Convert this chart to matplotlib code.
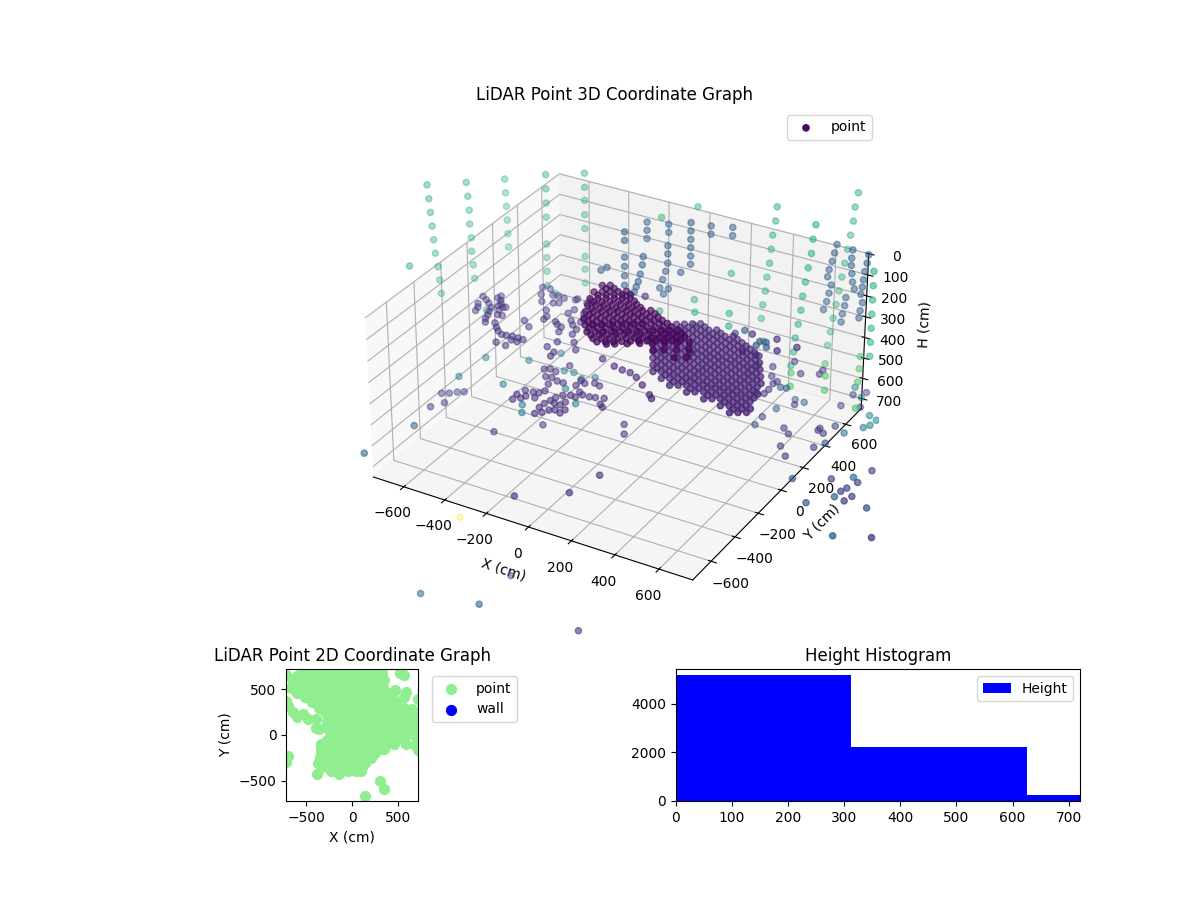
import matplotlib
matplotlib.use("Agg")
import matplotlib.pyplot as plt
from matplotlib.gridspec import GridSpec

# Values below were read in a unit slightly smaller than a centimetre.
READING_TO_CM = 1.0417

# ---- dense core under the sensor
core_x = [-206,-179,-207,-179,-152,-125,-97,-193,-166,-139,-111,-84,-57,-173,-146,-119,-91,-64,-36,-9,
          -154,-127,-99,-72,-45,-17,10,37,65,-131,-103,-76,-48,-21,6,34,61,88,116,
          -100,-73,-45,-18,9,37,64,91,119,146,173,-66,-39,-12,16,43,71,98,125,153,180,207,235,
          -19,9,36,63,91,118,145,173,200,227,255,282,49,76,117,158,199,240,281,322,229,263,304,345,328,369,
          -179,-152,-180,-152,-125,-98,-70,-166,-139,-112,-84,-57,-30,-146,-119,-92,-64,-37,-9,18,
          -127,-100,-72,-45,-18,10,37,64,92,-104,-76,-49,-21,6,33,61,88,115,143,
          -73,-46,-18,9,36,64,91,118,146,173,200,-39,-12,15,43,70,98,125,152,180,207,234,262,
          8,36,63,90,118,145,172,200,227,254,282]
core_y = [198,215,134,151,168,185,203,78,95,113,130,147,164,27,44,61,78,96,113,130,
          -23,-6,11,28,45,63,80,97,114,-73,-55,-38,-21,-4,13,31,48,65,82,
          -117,-100,-83,-66,-49,-31,-14,3,20,37,55,-160,-143,-126,-109,-91,-74,-57,-40,-22,-5,12,29,
          -194,-177,-160,-143,-125,-108,-91,-74,-57,-39,-22,-5,-206,-189,-163,-137,-112,-86,-60,-34,-156,-135,-109,-83,-166,-141,
          183,200,119,136,153,170,188,63,80,98,115,132,149,12,29,46,63,81,98,115,
          -38,-21,-4,13,30,48,65,82,99,-88,-70,-53,-36,-19,-2,16,33,50,67,
          -132,-115,-98,-81,-64,-46,-29,-12,5,22,40,-175,-158,-141,-124,-106,-89,-72,-55,-37,-20,-3,14,
          -209,-192,-175,-158,-140,-123,-106,-89,-72,-54,-37]

# ---- elongated ridge
ridge_x = [49,76,103,130,157,183, 50,76,103,130,157,184,210,237, 77,103,130,157,184,211,237,264,291,
           78,105,131,158,185,212,239,265,292,319, 105,132,158,185,212,239,266,292,319,346,373,
           132,159,185,212,239,266,293,319,346,373,400, 160,187,213,240,267,294,321,347,374,401,428,455,
           214,240,267,294,321,348,374,401,428,455,482, 241,267,294,321,348,375,401,428,455,482,509,535,
           295,322,349,376,403,429,456,483,510,537,563,590, 322,349,376,403,430,456,483,510,537,564,590,617,
           377,404,431,458,484,511,538,565,592,618,645, 431,458,485,511,538,565,592,619, 485,512,538,565,592,
           76,103,130,157,184, 77,103,130,157,184,211,237, 104,130,157,184,211,238,264,291,
           105,132,158,185,212,239,266,292,319, 132,159,185,212,239,266,293,319,346,373,
           159,186,212,239,266,293,320,346,373,400, 187,214,240,267,294,321,348,374,401,428,455,
           241,267,294,321,348,375,401,428,455,482, 268,294,321,348,375,402,428,455,482,509,536,
           322,349,376,403,430,456,483,510,537,564,590, 349,376,403,430,457,483,510,537,564,591,617,
           404,431,458,485,511,538,565,592,619,645, 458,485,512,538,565,592,619]
ridge_y = [159,112,65,18,-29,-75, 222,176,129,82,35,-12,-58,-105, 239,193,146,99,52,5,-41,-88,-135,
           303,256,210,163,116,69,22,-24,-71,-118, 320,273,227,180,133,86,39,-7,-54,-101,-148,
           338,291,245,198,151,104,57,11,-36,-83,-130, 355,308,262,215,168,121,74,28,-19,-66,-113,-160,
           325,279,232,185,138,91,45,-2,-49,-96,-143, 342,296,249,202,155,108,62,15,-32,-79,-126,-173,
           313,266,219,172,125,79,32,-15,-62,-109,-156,-202, 331,284,237,190,143,97,50,3,-44,-91,-138,-184,
           301,254,207,160,114,67,20,-27,-74,-121,-167, 271,224,177,131,84,37,-10,-57, 241,194,148,101,54,
           144,97,50,3,-44, 207,161,114,67,20,-27,-73, 224,178,131,84,37,-10,-56,-103,
           288,241,195,148,101,54,7,-39,-86, 305,258,212,165,118,71,24,-22,-69,-116,
           323,276,230,183,136,89,42,-4,-51,-98, 340,293,247,200,153,106,59,13,-34,-81,-128,
           310,264,217,170,123,76,30,-17,-64,-111, 327,281,234,187,140,93,47,0,-47,-94,-141,
           298,251,204,157,110,64,17,-30,-77,-124,-171, 316,269,222,175,128,82,35,-12,-59,-106,-153,
           286,239,192,145,99,52,5,-42,-89,-136, 256,209,162,116,69,22,-25]

# ---- curved left ring and nearby returns
ring_x = [-874,-846,-820,-791,-782,-770,-762,-746,-858,-842,-834,-813,-809,-790,-772,-774,-752,-736,-750,-740,
          -715,-708,-682,-660,-632,-611,-586,-558,-533,-574,-569,-618,-546,-613,-569,-697,-670,-636,-662,-625,
          -601,-569,-587,-567,-520,-517,-464,-462,-580,-550,-549,-487,-481,-428,-405,-496,-478,-452,-440,-445,
          -419,-387,-404,-381,-402,-417,-370,-365,-340,-303]
ring_y = [342,324,303,277,245,216,185,159,279,252,222,362,383,349,324,305,274,238,302,309,
          241,173,144,122,104,107,114,113,111,85,34,39,84,251,215,535,479,428,539,499,
          505,498,440,453,510,521,509,538,372,327,301,395,434,422,382,307,291,280,241,348,
          318,294,356,251,166,111,86,52,196,147]

# ---- low arcs in front of the core
arc_x = [-469,-448,-417,-392,-432,-407,-372,-343,-391,-374,-387,-411,-446,-459,-453,-429,-420,-381,-287,-290,
         -264,-230,-202,-247,-225,-193,-169,-135,-125,-106,-266,-293,-309,-315,-324,-326,-317,-297,-281,-260,
         -231,-226,-290,-262,-256,-241]
arc_y = [169,182,175,245,120,126,112,112,73,19,-7,-13,-17,-61,-103,-79,-55,-49,120,164,
         152,174,165,82,68,69,76,88,40,24,42,25,-4,-35,-68,-104,-154,-132,-103,-90,
         -100,-69,-46,-46,-16,39]

# ---- band joining core to arcs
band_x = [-57,-19,21,72,134,156,-100,-171,-214,-179,-145,-111,-77,-43,-148,-107,-66,-25,16,9,43]
band_y = [100,97,77,36,-16,-38,110,138,129,151,172,194,216,237,97,123,149,174,200,114,136]
band_h = [450,450,450,450,450,450,450,450,300,300,300,300,300,300,300,300,300,300,300,300,300]

# ---- teal returns
teal_x = [-435,-393,-339,-295,-597,-441,-410,-257,-355,-789,-777,-608,-522]
teal_y = [272,280,251,288,52,-50,-103,66,149,14,203,273,391]

# ---- slanted wall columns, far and pale
green_x = [-1191,-1186,-1182,-1178,-1174,-1170,-1162,-1158,-1154,
           -1093,-1089,-1085,-1085,-1081,-1081,-1077,-1073,
           -1041,-1039,-1037,-1035,-1034,-1033,
           -805,-805,-805,-805,-805,-805,-805,-805,
           -670,-670,-670,-670,-670,-670,-670,-670,
           -1131,
           182,178,169,165,161,153,149,141,137,
           420,412,408,399,391,383,379,371,362,358,350,
           445,436,432,424,416,408,400,391,383,375,367,359,
           697,697,697,697,697,697,697]
green_y = [421,424,426,429,431,434,439,442,444,
           572,575,577,577,580,580,583,585,
           794,795,796,797,798,800,
           747,747,747,747,747,747,747,747,
           841,841,841,841,841,841,841,841,
           181,
           969,967,961,959,956,951,948,943,941,
           849,844,842,836,831,826,823,818,813,810,805,
           1192,1186,1184,1179,1173,1168,1163,1158,1153,1147,1142,1137,
           830,830,830,830,830,830,830]
green_h = [40,105,170,235,300,365,430,495,560, 69,135,201,267,333,399,465,531, 135,201,267,333,399,465,
           36,103,170,238,367,433,500,569, 36,103,165,233,300,435,497,564, 300,
           36,102,168,234,300,366,432,498,564, 5,71,137,203,269,335,401,467,533,599,665,
           2,68,134,200,266,332,398,464,530,596,662,728, 137,203,269,335,401,467,533]

green2_x = [-162,-246,65,-46,8,136,185,-123,58,367,-846,-672]
green2_y = [917,755,796,681,587,649,553,524,492,512,324,596]
green2_h = [100,100,300,400,400,400,400,400,400,400,500,500]

lime_x = [427,474,516,562,610,656,698,782,616]
lime_y = [651,553,788,699,593,821,721,528,915]

# ---- blue-grey wall columns
blue_x = [-241,-241,-241,-172,-172,-111,-111,-111,-118,-128,-138,-125,-108,
          -28,-28,-28,-28,-28,-28,5,5,88,88,-32,
          -151,-154,-161,-168,-175,-182,-238,-238,-238,-238,-238,-238,-238,
          497,490,483,473,469,483,476,469,459, 566,563,563,566,570,577,549,546,539,536,
          641,637,630,627,624,620,627,620,617,-324,-315]
blue_y = [623,623,623,683,683,567,567,567,563,556,550,558,569,
          610,610,610,610,610,610,723,723,756,756,535,
          433,431,427,423,418,414,432,432,432,432,432,432,432,
          895,890,886,880,877,886,882,877,871, 902,900,900,902,904,909,891,889,885,883,
          895,892,888,886,884,882,886,882,880,388,421]
blue_h = [62,100,138,81,119,112,150,193,231,269,308,337,313,
          4,42,81,119,158,196,61,99,61,99,200,
          112,150,193,227,251,275,21,60,137,180,223,267,315,
          96,135,173,212,245,284,322,361,399, 106,144,178,216,255,288,327,365,404,442,
          106,144,183,221,255,288,327,365,399,200,200]

# ---- floor-level stragglers
floor_x = [-843,-816,-792,-768,-791,-823,-798,-853,-491,-347,-164,10,48,-62,-24,
           398,401,418,452,468,494,515,552,567,619,720,846,687,643,643,672,713,689,637,744,712,642,682,681,622,774,809,793,814,
           967,925,956,937,927,854,923,981,969,1067,1095,989,1040,1174,1400]
floor_y = [-39,-22,2,18,-97,-153,-312,-590,-190,-45,-559,-431,-261,124,58,
           459,388,545,649,612,648,424,392,293,234,98,-32,351,478,495,467,403,542,700,512,729,804,848,801,864,687,618,589,667,
           308,227,201,143,110,173,62,98,54,52,151,394,-190,-127,-250]
floor_lv = [.2,.2,.2,.2,.2,.2,.32,.34,.22,.18,.22,.2,.15,.15,.15,
            .17,.25,.3,.3,.15,.3,.18,.18,.18,.18,.28,.3,.18,.18,.18,.18,.3,.18,.18,.38,.18,.18,.18,.45,.4,.45,.42,.4,.45,
            .2,.35,.2,.2,.2,.2,.33,.2,.2,.25,.2,.2,.33,.2,.33]

# ---- returns well below the floor
deep_x = [-594,-347,-344,95]
deep_y = [-610,-555,-317,-513]
deep_h = [1300,1300,1300,1300]
deep_lv = [.35,.32,.25,.2]

# ---- mid-height stragglers to the right of the ridge
mid_x = [-147,380,485,584,528,471,412,147,237,340,318,434,459,478,436]
mid_y = [444,384,396,377,314,242,241,183,131,396,355,346,352,318,311]
mid_lv = [.1,.12,.12,.12,.12,.12,.12,.05,.05,.27,.27,.27,.27,.27,.27]

side_x = [409,378,410,404,411,371,465,534,532,398,339,444,468,280]
side_y = [447,437,485,536,559,588,665,700,735,742,659,525,531,640]
side_lv = [.15,.15,.15,.15,.15,.15,.15,.15,.15,.15,.15,.3,.3,.3]

outlier_x = [-935]
outlier_y = [204]
outlier_h = [1500]

# ---- a nearest return past the right edge of the view
near_x = [1500]
near_y = [-400]
near_h = [200]

# ---- 2D plan view, read row by row
plan_rows_y = [680,640,600,555,510,455,410,355,300,250,200,150,100,50,0,-50,-100,-150,-200,-250,-300,-345,-390]
plan_rows_x = [
    [-560,-470,-380,-290,-200,-110,-20,70,160,250,320,520],
    [-600,-510,-420,-330,-240,-150,-60,30,120,210,300],
    [-650,-560,-470,-380,-290,-200,-110,-20,70,160,250,350],
    [-650,-560,-470,-380,-290,-200,-110,-20,70,160,250,300],
    [-670,-580,-490,-400,-310,-220,-130,-40,50,140,230,340],
    [-600,-510,-420,-330,-240,-150,-60,30,120,210,300,400],
    [-520,-430,-340,-250,-160,-70,20,110,200,290,380,430],
    [-440,-350,-260,-170,-80,10,100,190,280,370,480],
    [-360,-270,-180,-90,0,90,180,270,360,450,560],
    [-300,-210,-120,-30,60,150,240,330,420,510,620],
    [-260,-170,-80,10,100,190,280,370,460,550,640],
    [-270,-180,-90,0,90,180,270,360,450,540,630,680],
    [-280,-190,-100,-10,80,170,260,350,440,530,620,710],
    [-250,-160,-70,20,110,200,290,380,470,560,650,720],
    [-230,-140,-50,40,130,220,310,400,490,580,670,720],
    [-280,-190,-100,-10,80,170,260,350,440,560],
    [-340,-250,-160,-70,20,110,200,290,380,460],
    [-340,-250,-160,-70,20,110,200,290,350],
    [-340,-250,-160,-70,20,110,200,245],
    [-350,-260,-170,-80,10,100,200],
    [-375,-290,-200,-110,-20,70,135],
    [-330,-240,-150,-60,30,110],
    [-230,-140,-50,40,100],
]
plan_extra_x = [-720,560,470,560,590,-720,-700,-650,-600,-540,-480,-400,-360,-390,-140,-380,-700,-720,590,680,720,300,345,140,650,720,700]
plan_extra_y = [650,650,490,420,470,370,320,250,200,230,170,80,70,180,-430,-420,-230,-290,-100,-110,-160,-500,-590,-665,280,390,200]

# ---- histogram
hist_edges = [0, 312, 626, 940]
hist_counts = [5184, 2227, 250]

x3, y3, h3, lv3 = [], [], [], []
def add(xs, ys, hs, levels):
    x3.extend(v * READING_TO_CM for v in xs)
    y3.extend(v * READING_TO_CM for v in ys)
    h3.extend(v * READING_TO_CM for v in hs)
    lv3.extend(levels)

add(core_x, core_y, [150]*len(core_x), [.02]*len(core_x))
add(ridge_x, ridge_y, [300]*len(ridge_x), [.1]*len(ridge_x))
add(ring_x, ring_y, [450]*len(ring_x), [.15]*len(ring_x))
add(arc_x, arc_y, [600]*len(arc_x), [.13]*len(arc_x))
add(band_x, band_y, band_h, [.1]*len(band_x))
add(teal_x, teal_y, [650]*len(teal_x), [.42]*len(teal_x))
add(green_x, green_y, green_h, [.62]*len(green_x))
add(green2_x, green2_y, green2_h, [.64]*len(green2_x))
add(lime_x, lime_y, [600]*len(lime_x), [.72]*len(lime_x))
add(blue_x, blue_y, blue_h, [.3]*len(blue_x))
add(floor_x, floor_y, [720]*len(floor_x), floor_lv)
add(deep_x, deep_y, deep_h, deep_lv)
add(mid_x, mid_y, [300]*len(mid_x), mid_lv)
add(side_x, side_y, [600]*len(side_x), side_lv)
add(outlier_x, outlier_y, outlier_h, [1.0])
add(near_x, near_y, near_h, [.4])

plan_x, plan_y = [], []
for yy, xs in zip(plan_rows_y, plan_rows_x):
    plan_x.extend(xs); plan_y.extend([yy]*len(xs))
plan_x.extend(plan_extra_x); plan_y.extend(plan_extra_y)

fig = plt.figure(figsize=(12, 9), dpi=100)
gs = GridSpec(2, 2, height_ratios=[4, 1], hspace=0.1, wspace=0.3)

ax = fig.add_subplot(gs[0, :], projection='3d')
ax.scatter(x3, y3, h3, c=lv3, cmap='viridis', vmin=0, vmax=1, s=20, label='point')
ax.set_xlim(-750, 750); ax.set_ylim(-750, 750); ax.set_zlim(750, 0)
ax.set_box_aspect((1, 1, 0.5))
ax.set_xlabel('X (cm)'); ax.set_ylabel('Y (cm)'); ax.set_zlabel('H (cm)')
ax.set_title('LiDAR Point 3D Coordinate Graph')
ax.legend(loc='upper right')

ax2 = fig.add_subplot(gs[1, 0])
ax2.scatter(plan_x, plan_y, c='lightgreen', s=50, label='point')
ax2.scatter([], [], c='blue', s=50, label='wall')
ax2.set_xlim(-720, 720); ax2.set_ylim(-720, 720)
ax2.set_aspect('equal')
ax2.set_xlabel('X (cm)'); ax2.set_ylabel('Y (cm)')
ax2.set_title('LiDAR Point 2D Coordinate Graph')
ax2.legend(loc='upper left', bbox_to_anchor=(1.05, 1))

ax3 = fig.add_subplot(gs[1, 1])
widths = [b - a for a, b in zip(hist_edges[:-1], hist_edges[1:])]
ax3.bar(hist_edges[:-1], hist_counts, width=widths, align='edge', color='blue', label='Height')
ax3.set_xlim(0, 720)
ax3.set_title('Height Histogram')
ax3.legend(loc='upper right')

fig.savefig('out.png', dpi=100)
